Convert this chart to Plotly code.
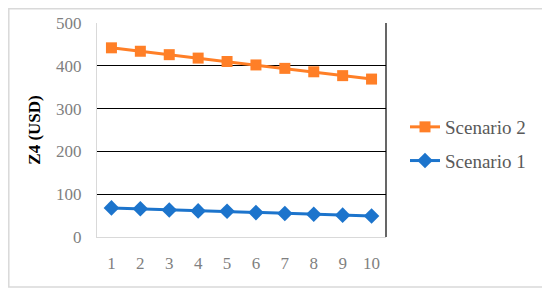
import plotly.graph_objects as go

periods = [1, 2, 3, 4, 5, 6, 7, 8, 9, 10]
scenario_2 = [442, 434, 426, 418, 410, 402, 394, 386, 377, 369]
scenario_1 = [68, 66, 63, 61, 60, 57, 55, 53, 51, 49]

# page has an 8px body margin, so the figure is laid out in its own coords
W, H = 542, 283
L, R, T, B = 89, 164, 15, 54
FONT = "Liberation Serif"


def px_x(p):
    return (p - L) / (W - L - R)


def px_y(p):
    return 1 - (p - T) / (H - T - B)


fig = go.Figure()
fig.add_trace(go.Scatter(
    x=[str(p) for p in periods], y=scenario_2, name="Scenario 2",
    mode="lines+markers", legendgroup="s2",
    line=dict(color="#FF7F27", width=3),
    marker=dict(symbol="square", size=11, color="#FF7F27"),
))
fig.add_trace(go.Scatter(
    x=[str(p) for p in periods], y=scenario_1, name="Scenario 1",
    mode="lines+markers", legendgroup="s1",
    line=dict(color="#1C74CC", width=3),
    marker=dict(symbol="diamond", size=12, color="#1C74CC"),
))

# outer frame and right plot border
fig.add_shape(type="rect", xref="paper", yref="paper",
              x0=px_x(0.8), x1=px_x(538), y0=px_y(279), y1=px_y(0.8),
              line=dict(color="#D9D9D9", width=1.5), layer="below")
fig.add_shape(type="line", xref="paper", yref="paper",
              x0=1, x1=1, y0=0, y1=1, line=dict(color="black", width=1.2))

fig.update_layout(
    width=W, height=H,
    margin=dict(l=L, r=R, t=T, b=B, autoexpand=False),
    paper_bgcolor="white", plot_bgcolor="white",
    font=dict(family=FONT, size=17, color="#7F7F7F"),
    showlegend=True,
    legend=dict(
        x=px_x(397), y=px_y(100), xanchor="left", yanchor="top",
        traceorder="grouped", tracegroupgap=6,
        font=dict(family=FONT, size=19, color="#595959"),
        bgcolor="rgba(0,0,0,0)",
    ),
)
fig.update_xaxes(
    type="category", range=[-0.5, len(periods) - 0.5], automargin=False,
    showgrid=False, showline=True, linecolor="#D9D9D9",
    linewidth=1.2, ticks="", ticklabelstandoff=10,
    tickfont=dict(family=FONT, size=17, color="#7F7F7F"),
)
fig.update_yaxes(
    range=[0, 500], dtick=100, automargin=False,
    showgrid=True, gridcolor="black",
    gridwidth=1.2, zeroline=False, showline=True, linecolor="#D9D9D9",
    linewidth=1.2, ticks="", ticklabelstandoff=11,
    tickfont=dict(family=FONT, size=17, color="#7F7F7F"),
    title=dict(text="<b>Z4 (USD)</b>", standoff=11,
               font=dict(family=FONT, size=17, color="black")),
)

fig.write_html("out.html")
